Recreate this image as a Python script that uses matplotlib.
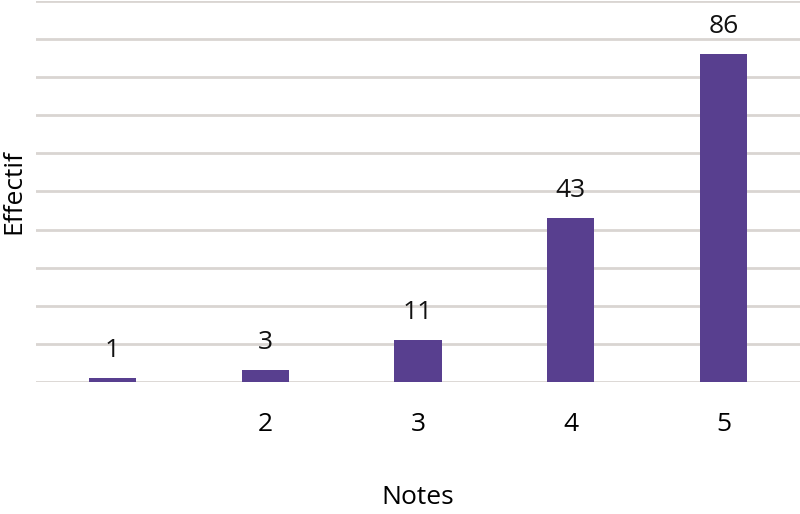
import matplotlib.pyplot as plt

# données
notes = [1, 2, 3, 4, 5]
etiquettes = ["", "2", "3", "4", "5"]
effectifs = [1, 3, 11, 43, 86]

plt.rcParams['font.family'] = ['Open Sans', 'DejaVu Sans']

fig = plt.figure(figsize=(8, 5.14), dpi=100)
ax = fig.add_axes([0.045, 0.257, 0.955, 0.741])

x = range(len(notes))
barres = ax.bar(x, effectifs, width=0.31, color='#583f8f', zorder=3)
ax.bar_label(barres, labels=[str(v) for v in effectifs], padding=11, fontsize=19, color='#111111')

ax.set_xlim(-0.5, len(notes) - 0.5)
ax.set_ylim(0, 100)
ax.set_yticks(range(0, 101, 10))
ax.set_yticklabels([])
ax.set_xticks(list(x))
ax.set_xticklabels(etiquettes, fontsize=19)
ax.tick_params(length=0, pad=22)
ax.grid(axis='y', color='#d9d5d2', linewidth=2, zorder=0)
for s in ax.spines.values():
    s.set_visible(False)

ax.set_xlabel('Notes', fontsize=19, labelpad=34)
# titre de l'axe y placé à la main pour ne pas être coupé
fig.text(0.017, 0.627, 'Effectif', rotation=90, ha='center', va='center', fontsize=19)

fig.savefig('out.png', dpi=100)
